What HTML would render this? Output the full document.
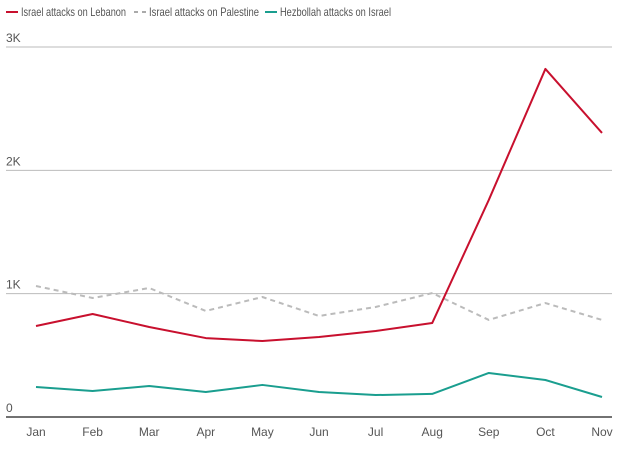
<!DOCTYPE html>
<html><head><meta charset="utf-8"><style>
body{margin:0;background:#fff;font-family:"Liberation Sans",sans-serif;}
svg text{font-family:"Liberation Sans",sans-serif;fill:#555;font-size:12px;}
</style></head><body>
<svg id="chart" width="624" height="450" viewBox="0 0 624 450"></svg>
<script>
const months=["Jan","Feb","Mar","Apr","May","Jun","Jul","Aug","Sep","Oct","Nov"];
const lebanon=[738,835,730,640,616,649,697,762,1760,2822,2303];
const palestine=[1062,965,1046,860,973,819,892,1005,787,924,787];
const hezbollah=[243,211,251,203,260,203,178,187,357,300,162];
const yTicks=[0,1000,2000,3000];
const yTickLabels=["0","1K","2K","3K"];
const svg=document.getElementById('chart');
const NS="http://www.w3.org/2000/svg";
const x=i=>36+i*(602-36)/(months.length-1);
const y=v=>417-v*(370/3000);
function mk(t,a){const e=document.createElementNS(NS,t);for(const k in a)e.setAttribute(k,a[k]);svg.appendChild(e);return e;}
yTicks.forEach((v,i)=>{
 const l=mk('line',{x1:6,x2:612,y1:y(v),y2:y(v),stroke:v===0?'#444':'#bbb','stroke-width':v===0?1.5:1});
 
 
 const t=mk('text',{x:6,y:y(v)-5});t.textContent=yTickLabels[i];
 
 
});
months.forEach((m,i)=>{
 const t=mk('text',{x:x(i),y:436,'text-anchor':'middle'});t.textContent=m;
 
 
});
function series(d,color,dash,name){
 const p=mk('polyline',{points:d.map((v,i)=>x(i)+','+y(v)).join(' '),fill:'none',stroke:color,'stroke-width':2,'stroke-dasharray':dash||'none','stroke-linejoin':'round'});
 
 
}
series(palestine,'#bbb','5,4','line-israel-palestine');
series(hezbollah,'#1a9e8f','','line-hezbollah-israel');
series(lebanon,'#c8102e','','line-israel-lebanon');
const legend=[["Israel attacks on Lebanon","#c8102e",""],["Israel attacks on Palestine","#aaa","4,4"],["Hezbollah attacks on Israel","#1a9e8f",""]];
const lxs=[6,134,265];
const lens=[105,110,111];
legend.forEach((L,i)=>{
 const g=mk('g',{});
 
 
 const ln=document.createElementNS(NS,'line');
 [['x1',lxs[i]],['x2',lxs[i]+12],['y1',12],['y2',12],['stroke',L[1]],['stroke-width',2],['stroke-dasharray',L[2]||'none']].forEach(a=>ln.setAttribute(a[0],a[1]));
 g.appendChild(ln);
 const t=document.createElementNS(NS,'text');
 t.setAttribute('x',lxs[i]+15);t.setAttribute('y',16);
 t.setAttribute('textLength',lens[i]);t.setAttribute('lengthAdjust','spacingAndGlyphs');
 t.textContent=L[0];
 g.appendChild(t);
});
</script>
</body></html>
